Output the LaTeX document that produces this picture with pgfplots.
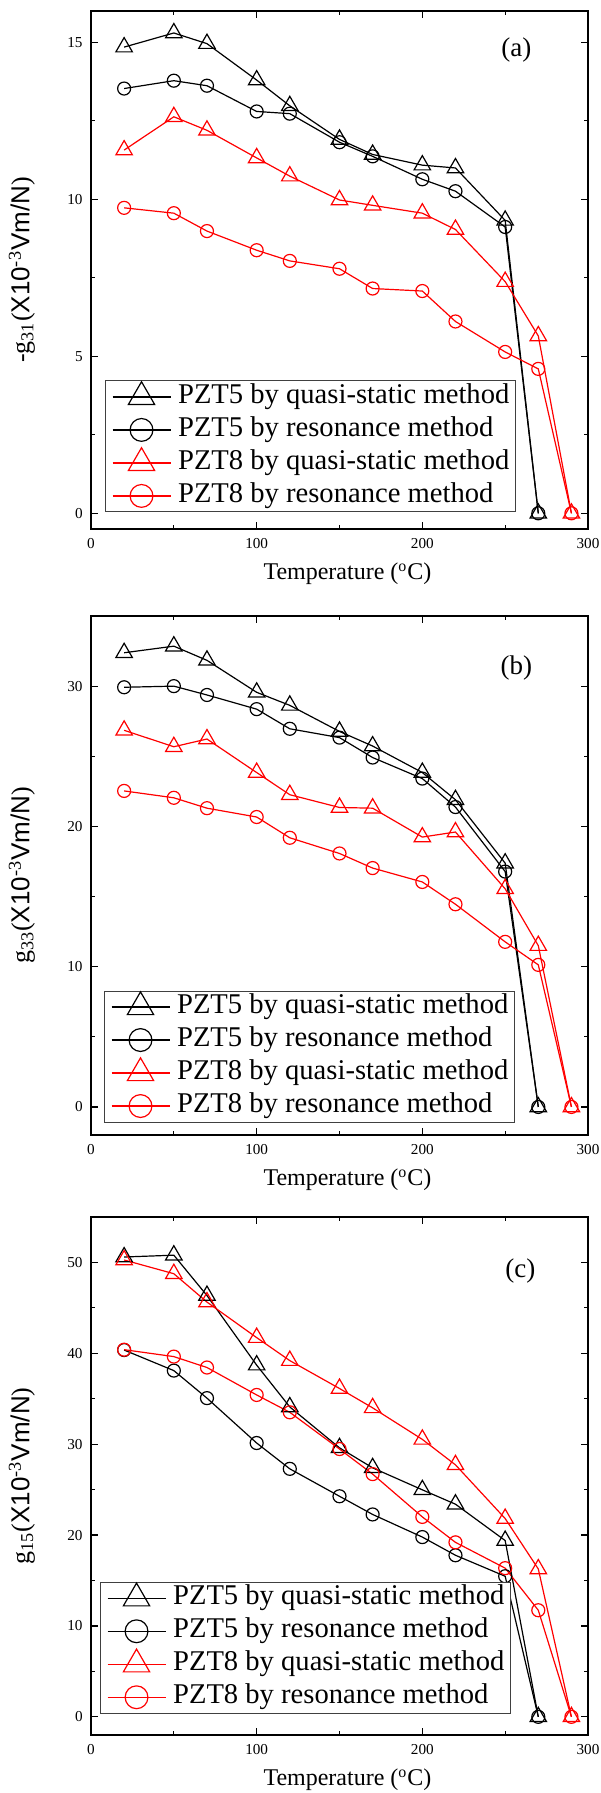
\documentclass[border=0pt]{standalone}
\usepackage{fontspec}
\setmainfont{Liberation Serif}
\newfontfamily\arialf{Liberation Sans}
\usepackage{pgfplots}
\pgfplotsset{compat=1.18}
\pgfplotsset{
  legtri/.style={legend image code/.code={
      \draw[##1] (0pt,0pt) -- (29pt,0pt);
      \draw[##1, overlay, mark size=7.6pt] plot coordinates {(14.5pt,0pt)};}},
  legcirc/.style={legend image code/.code={
      \draw[##1] (0pt,0pt) -- (29pt,0pt);
      \draw[##1, overlay, mark size=5.7pt] plot coordinates {(14.5pt,0pt)};}},
  p5qs/.style={black, line width=0.6pt, mark=triangle, mark size=4.75pt, mark options={solid, fill=white, line width=0.6pt}, legtri},
  p5r/.style={black, line width=0.6pt, mark=o, mark size=3.25pt, mark options={solid, fill=white, line width=0.6pt}, legcirc},
  p8qs/.style={red, line width=0.6pt, mark=triangle, mark size=4.75pt, mark options={solid, fill=white, line width=0.6pt}, legtri},
  p8r/.style={red, line width=0.6pt, mark=o, mark size=3.25pt, mark options={solid, fill=white, line width=0.6pt}, legcirc},
  panel/.style={
    anchor=north west, scale only axis, width=248.5pt,
    xmin=0, xmax=300, xtick={0,100,200,300}, minor x tick num=1,
    tick align=inside, major tick length=3.5pt, minor tick length=2pt,
    every tick/.style={black, line width=0.6pt},
    axis line style={line width=0.8pt},
    /pgf/number format/assume math mode=true,
    ticklabel style={font=\fontsize{7.6}{9}\selectfont, inner sep=0pt},
    xticklabel style={anchor=center, yshift=-7.5pt},
    yticklabel style={anchor=east, xshift=-4pt},
    every axis x label/.style={at={(axis description cs:0.516,-0.087)}, anchor=center, font=\fontsize{12}{14}\selectfont},
    every axis y label/.style={at={(axis description cs:-0.139,0.5)}, rotate=90, anchor=center, font=\fontsize{13}{15}\selectfont},
    xlabel={Temperature (\textsuperscript{o}C)},
    legend cell align=left,
    legend style={anchor=south west, draw=black!75, line width=0.5pt,
      font=\fontsize{14.3}{16}\selectfont, inner xsep=3pt, inner ysep=1.25pt,
      column sep=3.5pt, row sep=3pt,
      nodes={inner sep=0pt, text height=10pt, text depth=3.5pt}},
  }
}
\begin{document}
\begin{tikzpicture}
\path[use as bounding box] (0pt,0pt) rectangle (300pt,-896.5pt);
% ---------- (a)
\begin{axis}[panel, at={(45.5pt,-5.5pt)}, height=259pt,
  ymin=-0.5, ymax=16, ytick={0,5,10,15}, minor y tick num=1,
  ylabel={-g\textsubscript{31}({\arialf X10}\textsuperscript{-3}{\arialf Vm/N})},
  legend style={at={(0.029,0.032)}}]
\addplot[p5qs] coordinates {(20,14.85)(50,15.3)(70,14.96)(100,13.8)(120,12.98)(150,11.91)(170,11.43)(200,11.09)(220,11.0)(250,9.33)(270,0)};
\addlegendentry{PZT5 by quasi-static method}
\addplot[p5r] coordinates {(20,13.53)(50,13.78)(70,13.62)(100,12.80)(120,12.73)(150,11.82)(170,11.37)(200,10.64)(220,10.26)(250,9.12)(270,0)};
\addlegendentry{PZT5 by resonance method}
\addplot[p8qs] coordinates {(20,11.57)(50,12.63)(70,12.2)(100,11.32)(120,10.74)(150,9.98)(170,9.81)(200,9.56)(220,9.04)(250,7.38)(270,5.65)(290,0)};
\addlegendentry{PZT8 by quasi-static method}
\addplot[p8r] coordinates {(20,9.73)(50,9.56)(70,8.99)(100,8.38)(120,8.04)(150,7.79)(170,7.16)(200,7.08)(220,6.11)(250,5.14)(270,4.6)(290,0)};
\addlegendentry{PZT8 by resonance method}
\node[font=\fontsize{13.5}{16}\selectfont] at (rel axis cs:0.856,0.924) {(a)};
\end{axis}
% ---------- (b)
\begin{axis}[panel, at={(45.5pt,-308pt)}, height=259.5pt,
  ymin=-2, ymax=35, ytick={0,10,20,30}, minor y tick num=1,
  ylabel={g\textsubscript{33}({\arialf X10}\textsuperscript{-3}{\arialf Vm/N})},
  legend style={at={(0.027,0.024)}}]
\addplot[p5qs] coordinates {(20,32.38)(50,32.85)(70,31.84)(100,29.56)(120,28.63)(150,26.77)(170,25.73)(200,23.84)(220,21.9)(250,17.38)(270,0)};
\addlegendentry{PZT5 by quasi-static method}
\addplot[p5r] coordinates {(20,29.92)(50,30.0)(70,29.37)(100,28.36)(120,26.96)(150,26.33)(170,24.91)(200,23.41)(220,21.38)(250,16.78)(270,0)};
\addlegendentry{PZT5 by resonance method}
\addplot[p8qs] coordinates {(20,26.85)(50,25.68)(70,26.23)(100,23.84)(120,22.26)(150,21.35)(170,21.3)(200,19.24)(220,19.6)(250,15.55)(270,11.5)(290,0)};
\addlegendentry{PZT8 by quasi-static method}
\addplot[p8r] coordinates {(20,22.53)(50,22.04)(70,21.3)(100,20.67)(120,19.19)(150,18.07)(170,17.03)(200,16.04)(220,14.45)(250,11.77)(270,10.13)(290,0)};
\addlegendentry{PZT8 by resonance method}
\node[font=\fontsize{13.5}{16}\selectfont] at (rel axis cs:0.856,0.899) {(b)};
\end{axis}
% ---------- (c)
\begin{axis}[panel, at={(45.5pt,-608.5pt)}, height=259pt,
  ymin=-2, ymax=55, ytick={0,10,20,30,40,50}, minor y tick num=1,
  ylabel={g\textsubscript{15}({\arialf X10}\textsuperscript{-3}{\arialf Vm/N})},
  legend style={at={(0.019,0.041)}}]
\addplot[p5qs] coordinates {(20,50.6)(50,50.8)(70,46.36)(100,38.7)(120,34.1)(150,29.6)(170,27.4)(200,24.98)(220,23.4)(250,19.4)(270,0)};
\addlegendentry{PZT5 by quasi-static method}
\addplot[p5r] coordinates {(20,40.36)(50,38.1)(70,35.07)(100,30.13)(120,27.29)(150,24.27)(170,22.27)(200,19.78)(220,17.78)(250,15.47)(270,0)};
\addlegendentry{PZT5 by resonance method}
\addplot[p8qs] coordinates {(20,50.27)(50,48.76)(70,45.64)(100,41.73)(120,39.2)(150,36.13)(170,34.0)(200,30.53)(220,27.73)(250,21.82)(270,16.27)(290,0)};
\addlegendentry{PZT8 by quasi-static method}
\addplot[p8r] coordinates {(20,40.4)(50,39.64)(70,38.44)(100,35.42)(120,33.51)(150,29.47)(170,26.71)(200,22.0)(220,19.2)(250,16.36)(270,11.73)(290,0)};
\addlegendentry{PZT8 by resonance method}
\node[font=\fontsize{13.5}{16}\selectfont] at (rel axis cs:0.864,0.896) {(c)};
\end{axis}
\end{tikzpicture}
\end{document}
